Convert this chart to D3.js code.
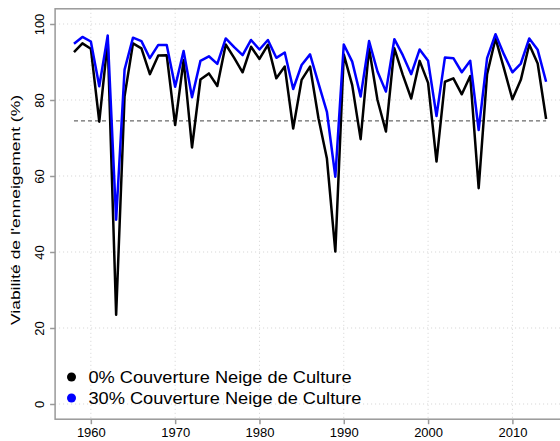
<!DOCTYPE html>
<html>
  <head>
    <script src="https://cdn.jsdelivr.net/npm/d3@7"></script>
    <style>
      body { margin: 0; background: #fff; }
      text { font-family: "Liberation Sans", Arial, sans-serif; }
    </style>
  </head>
  <body>
    <svg id="chart" width="560" height="441"></svg>
    <script>
    var years = d3.range(1958, 2015);

    var sansNeige = [92.6, 94.9, 93.5, 74.3, 95.5, 23.5, 81.0, 94.9, 93.6, 86.8,
      91.7, 91.8, 73.4, 90.5, 67.5, 85.4, 87.0, 83.7, 94.6, 91.1,
      87.3, 94.0, 90.8, 94.5, 85.7, 88.8, 72.5, 85.3, 88.8, 75.2,
      64.6, 40.1, 92.0, 83.9, 69.7, 93.6, 80.0, 71.7, 93.6, 86.6,
      80.4, 90.3, 84.5, 63.8, 84.8, 85.7, 81.5, 86.3, 56.8, 86.8,
      96.2, 88.3, 80.2, 85.3, 94.6, 89.6, 75.0];

    var neige30 = [94.8, 96.6, 95.4, 83.6, 97.0, 48.5, 88.0, 96.4, 95.5, 91.0,
      94.5, 94.5, 83.5, 92.9, 80.7, 90.3, 91.5, 89.5, 96.2, 93.9,
      91.8, 95.8, 93.3, 95.8, 91.1, 92.5, 82.9, 89.2, 92.0, 84.4,
      76.9, 59.8, 94.6, 90.1, 80.9, 95.5, 87.5, 82.2, 96.0, 91.8,
      86.8, 93.3, 90.3, 75.8, 91.2, 91.0, 87.3, 90.3, 72.1, 91.0,
      97.3, 92.0, 87.3, 89.6, 96.2, 93.2, 84.8];

    var seuil = 74.5;
    var xTicks = [1960, 1970, 1980, 1990, 2000, 2010];
    var yTicks = [0, 20, 40, 60, 80, 100];

    var series = [
      {label: "0% Couverture Neige de Culture", values: sansNeige, color: "#000000", len: 263},
      {label: "30% Couverture Neige de Culture", values: neige30, color: "#0000ff", len: 273}
    ];

    var svg = d3.select("#chart");
    var pLeft = 55.1, pTop = 8.8, pBottom = 419.2, pRight = 565;

    var x = d3.scaleLinear().domain([1955.76, 2016.24]).range([pLeft, pRight]);
    var y = d3.scaleLinear().domain([-4, 104]).range([pBottom, pTop]);

    // grid
    svg.append("g").selectAll("line").data(xTicks).enter().append("line")
      .attr("x1", d => x(d)).attr("x2", d => x(d))
      .attr("y1", pTop).attr("y2", pBottom)
      .attr("stroke", "#d3d3d3").attr("stroke-dasharray", "1,3");
    svg.append("g").selectAll("line").data(yTicks).enter().append("line")
      .attr("x1", pLeft).attr("x2", pRight)
      .attr("y1", d => y(d)).attr("y2", d => y(d))
      .attr("stroke", "#d3d3d3").attr("stroke-dasharray", "1,3");

    // seuil de viabilite
    svg.append("line")
      .attr("x1", x(years[0])).attr("x2", x(years[years.length - 1]))
      .attr("y1", y(seuil)).attr("y2", y(seuil))
      .attr("stroke", "#444").attr("stroke-width", 1).attr("stroke-dasharray", "4,3");

    // courbes
    var line = d3.line().x((d, i) => x(years[i])).y(d => y(d));
    svg.append("g").selectAll("path").data(series).enter().append("path")
      .attr("d", d => line(d.values))
      .attr("fill", "none")
      .attr("stroke", d => d.color)
      .attr("stroke-width", 2.5)
      .attr("stroke-linejoin", "round");

    // cadre
    svg.append("rect")
      .attr("x", pLeft).attr("y", pTop)
      .attr("width", pRight - pLeft).attr("height", pBottom - pTop)
      .attr("fill", "none").attr("stroke", "#999").attr("stroke-width", 1.5);

    // axes
    var xAxis = svg.append("g")
      .attr("transform", "translate(0," + pBottom + ")")
      .call(d3.axisBottom(x).tickValues(xTicks).tickFormat(d3.format("d")).tickSize(5).tickPadding(4));
    xAxis.select(".domain").remove();
    xAxis.selectAll("line").attr("stroke", "#999").attr("stroke-width", 1.5);
    xAxis.selectAll("text").attr("font-size", 13).attr("fill", "#000");

    var yAxis = svg.append("g")
      .attr("transform", "translate(" + pLeft + ",0)")
      .call(d3.axisLeft(y).tickValues(yTicks).tickSize(5));
    yAxis.select(".domain").remove();
    yAxis.selectAll("line").attr("stroke", "#999").attr("stroke-width", 1.5);
    yAxis.selectAll("text")
      .attr("font-size", 13).attr("fill", "#000")
      .attr("text-anchor", "middle").attr("dy", null)
      .attr("x", 0).attr("y", 0)
      .attr("transform", "translate(-16,0) rotate(-90)")
      .attr("dominant-baseline", "central");

    svg.append("text")
      .attr("transform", "translate(16,210) rotate(-90)")
      .attr("text-anchor", "middle")
      .attr("dominant-baseline", "central")
      .attr("font-size", 12)
      .attr("textLength", 230)
      .attr("lengthAdjust", "spacingAndGlyphs")
      .text("Viabilité de l'enneigement (%)");

    // legende
    var legend = svg.append("g").selectAll("g").data(series).enter().append("g")
      .attr("transform", (d, i) => "translate(71.5," + (377 + i * 21) + ")");
    legend.append("circle").attr("r", 4.5).attr("fill", d => d.color);
    legend.append("text")
      .attr("x", 17).attr("dominant-baseline", "central")
      .attr("font-size", 17).attr("fill", "#000")
      .attr("textLength", d => d.len)
      .attr("lengthAdjust", "spacingAndGlyphs")
      .text(d => d.label);
    </script>
  </body>
</html>
